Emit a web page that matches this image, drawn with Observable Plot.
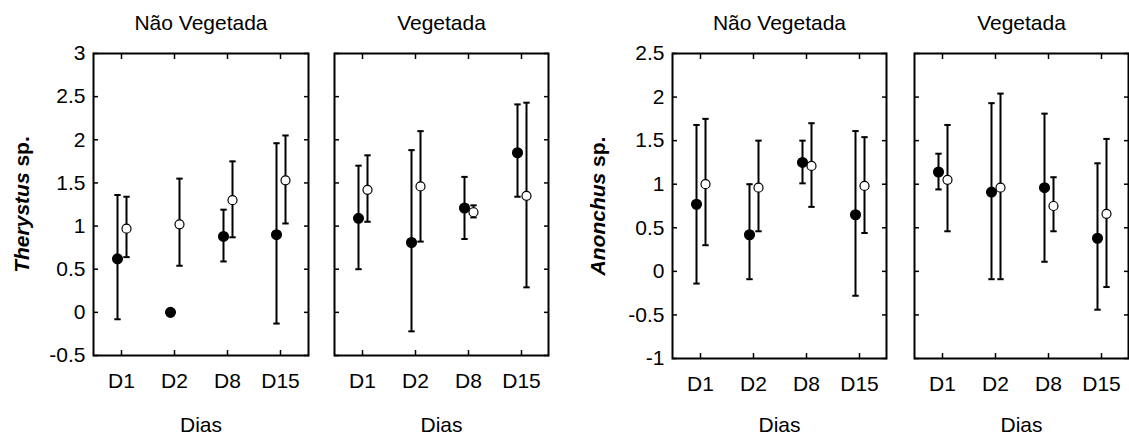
<!DOCTYPE html>
<html><head><meta charset="utf-8">
<script src="https://cdn.jsdelivr.net/npm/d3@7"></script>
<script src="https://cdn.jsdelivr.net/npm/@observablehq/plot@0.6"></script>
<style>
body{margin:0;background:#fff;}
#chart{position:relative;width:1129px;height:441px;overflow:hidden;background:#fff;}
</style></head><body><div id="chart"></div>
<script>
const days = ["D1","D2","D8","D15"];
const habitats = ["Não Vegetada","Vegetada"];
const xAxisLabel = "Dias";
const speciesLabels = ["Therystus sp.","Anonchus sp."];
const speciesItalic = ["Therystus","Anonchus"];

// Therystus sp. — Não Vegetada
const theryNVFilled   = [0.62, 0.00, 0.88, 0.90];
const theryNVFilledLo = [-0.08, null, 0.59, -0.13];
const theryNVFilledHi = [1.36, null, 1.19, 1.96];
const theryNVOpen     = [0.97, 1.02, 1.30, 1.53];
const theryNVOpenLo   = [0.64, 0.54, 0.87, 1.03];
const theryNVOpenHi   = [1.34, 1.55, 1.75, 2.05];
// Therystus sp. — Vegetada
const theryVFilled    = [1.09, 0.81, 1.21, 1.85];
const theryVFilledLo  = [0.50, -0.22, 0.85, 1.34];
const theryVFilledHi  = [1.70, 1.88, 1.57, 2.41];
const theryVOpen      = [1.42, 1.46, 1.16, 1.35];
const theryVOpenLo    = [1.05, 0.82, 1.10, 0.29];
const theryVOpenHi    = [1.82, 2.10, 1.24, 2.43];
// Anonchus sp. — Não Vegetada
const anonNVFilled    = [0.77, 0.42, 1.25, 0.65];
const anonNVFilledLo  = [-0.14, -0.09, 1.01, -0.28];
const anonNVFilledHi  = [1.68, 1.00, 1.50, 1.61];
const anonNVOpen      = [1.00, 0.96, 1.21, 0.98];
const anonNVOpenLo    = [0.30, 0.46, 0.74, 0.44];
const anonNVOpenHi    = [1.75, 1.50, 1.70, 1.54];
// Anonchus sp. — Vegetada
const anonVFilled     = [1.14, 0.91, 0.96, 0.38];
const anonVFilledLo   = [0.94, -0.09, 0.11, -0.44];
const anonVFilledHi   = [1.35, 1.93, 1.81, 1.24];
const anonVOpen       = [1.05, 0.96, 0.75, 0.66];
const anonVOpenLo     = [0.46, -0.09, 0.46, -0.18];
const anonVOpenHi     = [1.68, 2.04, 1.08, 1.52];

const theryTicks = [-0.5, 0, 0.5, 1, 1.5, 2, 2.5, 3];
const anonTicks  = [-1, -0.5, 0, 0.5, 1, 1.5, 2, 2.5];

const FONT = '"Liberation Sans", Arial, sans-serif';
const FS = 21;
const rows = (mean, lo, hi) => days.map((d, i) => ({day: d, mean: mean[i], lo: lo[i], hi: hi[i]}));
const capSymbol = {draw(ctx, size) { const r = Math.sqrt(size / Math.PI); ctx.moveTo(-r, 0); ctx.lineTo(r, 0); }};

function errMarks(data, dx) {
  const withBars = data.filter(r => r.lo != null);
  return [
    Plot.ruleX(withBars, {x: "day", y1: "lo", y2: "hi", dx, stroke: "black", strokeWidth: 2}),
    Plot.dot(withBars, {x: "day", y: "lo", dx, symbol: capSymbol, r: 3.2, stroke: "black", strokeWidth: 2, fill: "none"}),
    Plot.dot(withBars, {x: "day", y: "hi", dx, symbol: capSymbol, r: 3.2, stroke: "black", strokeWidth: 2, fill: "none"})
  ];
}

function panel(o) {
  const height = 441;
  const marks = [
    Plot.frame({stroke: "black", strokeWidth: 2}),
    Plot.axisY({anchor: "left", ticks: o.yTicks, tickSize: -5, tickFormat: () => "", label: null, strokeWidth: 1.5}),
    Plot.axisY({anchor: "right", ticks: o.yTicks, tickSize: -5, tickFormat: () => "", label: null, strokeWidth: 1.5}),
    Plot.axisX({anchor: "top", tickSize: -5, tickFormat: () => "", label: null, strokeWidth: 1.5}),
    Plot.axisX({anchor: "bottom", tickSize: -5, tickFormat: () => "", label: null, strokeWidth: 1.5}),
    Plot.axisX({anchor: "bottom", tickSize: 0, tickPadding: 18, label: null, fontSize: FS}),
    Plot.text([o.title], {frameAnchor: "top", lineAnchor: "middle", dy: -30, fontSize: FS}),
    Plot.text([xAxisLabel], {frameAnchor: "bottom", lineAnchor: "middle", dy: o.diasDy, fontSize: FS}),
    ...errMarks(o.filled, -4),
    ...errMarks(o.open, 5),
    Plot.dot(o.filled, {x: "day", y: "mean", dx: -4, r: 4.8, fill: "black", stroke: "black"}),
    Plot.dot(o.open, {x: "day", y: "mean", dx: 5, r: 4.5, fill: "white", stroke: "black", strokeWidth: 1.2})
  ];
  if (o.showY) {
    marks.push(Plot.axisY({anchor: "left", ticks: o.yTicks, tickSize: 0, tickPadding: 8, tickFormat: d => String(d), label: null, fontSize: FS}));
    marks.push(Plot.text([o.yLabel], {frameAnchor: "left", textAnchor: "middle", lineAnchor: "middle", dx: o.labelDx, rotate: -90, fontSize: FS, fontWeight: "bold"}));
  }
  const svg = Plot.plot({
    width: o.svgWidth, height,
    marginLeft: o.marginLeft, marginRight: o.marginRight,
    marginTop: 53, marginBottom: height - o.bottom,
    x: {type: "point", domain: days, padding: 0.5},
    y: {domain: o.yDomain},
    style: {fontFamily: FONT, fontSize: FS + "px", background: "white", color: "black", overflow: "visible"},
    marks
  });
  svg.style.position = "absolute";
  svg.style.left = o.svgLeft + "px";
  svg.style.top = "0px";
  svg.style.maxWidth = "none";
  if (o.showY) {
    const t = Array.from(svg.querySelectorAll("text")).find(el => el.textContent === o.yLabel);
    if (t) {
      const it = o.italic;
      const rest = o.yLabel.slice(it.length);
      while (t.firstChild) t.removeChild(t.firstChild);
      const ns = "http://www.w3.org/2000/svg";
      const a = document.createElementNS(ns, "tspan");
      a.setAttribute("font-style", "italic");
      a.style.fontStyle = "italic";
      a.textContent = it;
      const b = document.createElementNS(ns, "tspan");
      b.textContent = rest;
      t.appendChild(a); t.appendChild(b);
    }
  }
  return svg;
}

const chart = document.getElementById("chart");
chart.appendChild(panel({svgLeft: 0, svgWidth: 310, marginLeft: 93, marginRight: 2, bottom: 355,
  yDomain: [-0.5, 3], yTicks: theryTicks, showY: true, yLabel: speciesLabels[0], italic: speciesItalic[0], labelDx: -71,
  title: habitats[0], diasDy: 70,
  filled: rows(theryNVFilled, theryNVFilledLo, theryNVFilledHi), open: rows(theryNVOpen, theryNVOpenLo, theryNVOpenHi)}));
chart.appendChild(panel({svgLeft: 310, svgWidth: 240, marginLeft: 24, marginRight: 2, bottom: 355,
  yDomain: [-0.5, 3], yTicks: theryTicks, showY: false, title: habitats[1], diasDy: 70,
  filled: rows(theryVFilled, theryVFilledLo, theryVFilledHi), open: rows(theryVOpen, theryVOpenLo, theryVOpenHi)}));
chart.appendChild(panel({svgLeft: 550, svgWidth: 338, marginLeft: 122, marginRight: 2, bottom: 358,
  yDomain: [-1, 2.5], yTicks: anonTicks, showY: true, yLabel: speciesLabels[1], italic: speciesItalic[1], labelDx: -74,
  title: habitats[0], diasDy: 67,
  filled: rows(anonNVFilled, anonNVFilledLo, anonNVFilledHi), open: rows(anonNVOpen, anonNVOpenLo, anonNVOpenHi)}));
chart.appendChild(panel({svgLeft: 888, svgWidth: 241, marginLeft: 26, marginRight: 1, bottom: 358,
  yDomain: [-1, 2.5], yTicks: anonTicks, showY: false, title: habitats[1], diasDy: 67,
  filled: rows(anonVFilled, anonVFilledLo, anonVFilledHi), open: rows(anonVOpen, anonVOpenLo, anonVOpenHi)}));
</script></body></html>
